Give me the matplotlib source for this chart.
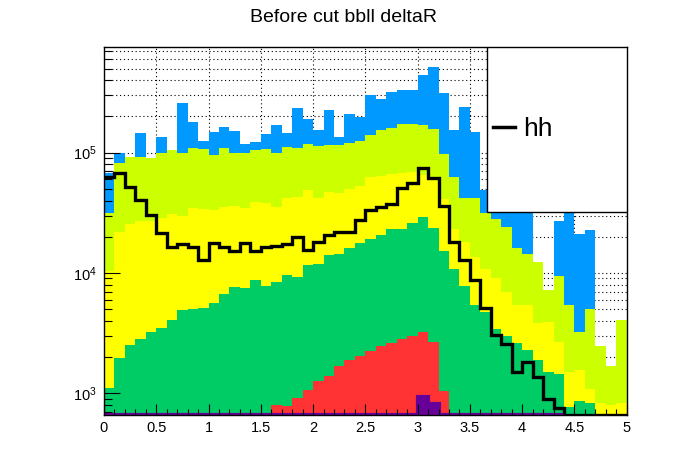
import numpy as np
import matplotlib
matplotlib.use('Agg')
import matplotlib.pyplot as plt
from matplotlib.ticker import MultipleLocator, FormatStrFormatter, LogLocator, NullFormatter
from matplotlib.patches import Rectangle

plt.rcParams['font.family'] = ['Liberation Sans', 'DejaVu Sans']
plt.rcParams['mathtext.default'] = 'regular'

# bin edges of deltaR histograms (50 bins of 0.1)
edges = np.linspace(0, 5, 51)

# stack levels (cumulative, top layer first)
blue_top = [68200, 100000, 91600, 145000, 89700, 134000, 105000, 258000, 180000, 125000,
            148000, 162000, 152000, 118000, 122000, 142000, 169000, 146000, 234000, 191000,
            153000, 225000, 135000, 210000, 198000, 302000, 280000, 322000, 332000, 332000,
            443000, 519000, 316000, 153000, 242000, 150000, 49000, 45000, 42000, 40000,
            36000, 12300, 7200, 27200, 40000, 21100, 22800, 2480, 1690, 4100]
lime_top = [31700, 82600, 91600, 92700, 89700, 100000, 105000, 98800, 109000, 107000,
            96400, 109000, 100000, 100000, 105000, 107000, 98800, 111000, 110000, 117000,
            114000, 116000, 116000, 120000, 125000, 139000, 155000, 160000, 173000, 173000,
            170000, 156000, 97500, 63200, 41800, 41800, 31300, 27900, 24300, 16000,
            14500, 12300, 7200, 9400, 5400, 3260, 5000, 2480, 1690, 4100]
yellow_top = [10300, 21900, 25500, 27000, 27000, 28500, 31000, 30000, 34500, 34000,
              33400, 35200, 36000, 34500, 38700, 38500, 35600, 42000, 43200, 49000,
              41800, 47500, 46500, 49900, 53200, 62400, 64400, 66500, 68200, 69500,
              65300, 61200, 41000, 23000, 18200, 13500, 10700, 9100, 6900, 5400,
              5400, 3860, 3940, 2650, 1490, 1560, 1080, 826, 800, 826]
green_top = [1100, 1980, 2520, 2830, 3210, 3470, 4070, 4930, 4990, 5090,
             5600, 6700, 7600, 7510, 8710, 7810, 8430, 9640, 9210, 11700,
             11900, 14100, 14300, 16000, 17900, 19100, 20700, 23000, 23200, 25900,
             29000, 23500, 15100, 10700, 7800, 5420, 4770, 3410, 3000, 2600,
             2290, 1890, 1510, 1450, 766, 863, 826, 450, 450, 450]
red_top = [450, 450, 450, 450, 450, 450, 450, 450, 450, 450,
           450, 450, 450, 450, 450, 682, 800, 790, 921, 1066,
           1267, 1403, 1700, 1893, 2056, 2250, 2480, 2610, 2830, 3000,
           3220, 2660, 1040, 450, 450, 450, 450, 450, 450, 450,
           450, 450, 450, 450, 450, 450, 450, 450, 450, 450]
purple_top = [300] * 30 + [938, 815] + [300] * 12 + [0] * 6

# signal hh (not stacked)
hh = [62400, 68200, 52200, 40500, 30400, 21400, 16600, 17300, 16300, 12800,
      17700, 16300, 15300, 17700, 15300, 16300, 16900, 17300, 20100, 15500,
      18000, 20700, 22100, 22100, 27600, 33200, 35700, 37500, 50600, 56400,
      75200, 61300, 36300, 18200, 12800, 8750, 5090, 3050, 2570, 1500,
      1830, 1370, 900, 760, 300, 300, 300, 300, 300, 300]

ymin, ymax = 660, 7.56e5

fig = plt.figure(figsize=(6.96, 4.72), dpi=100)
ax = fig.add_axes([0.1494, 0.1208, 0.751, 0.7796])
ax.set_yscale('log')
ax.set_xlim(0, 5)
ax.set_ylim(ymin, ymax)

layers = [(blue_top, '#0099ff'), (lime_top, '#ccff00'), (yellow_top, '#ffff00'),
          (green_top, '#00cc66'), (red_top, '#ff3333')]
for vals, col in layers:
    ax.stairs(vals, edges, baseline=1, fill=True, color=col, lw=0, zorder=1)

# purple layer: clamp at the axis minimum like ROOT does
pv = np.array(purple_top, dtype=float)
nz = np.nonzero(pv)[0]
pv_c = np.clip(pv[nz[0]:nz[-1] + 1], ymin, None)
ax.stairs(pv_c, edges[nz[0]:nz[-1] + 2], baseline=1, fill=True, color='#660099', lw=0, zorder=1.2)
ax.stairs(pv_c, edges[nz[0]:nz[-1] + 2], baseline=None, color='#660099', lw=3, zorder=1.3)

hh_c = np.clip(np.array(hh, dtype=float), ymin, None)
ax.stairs(hh_c, edges, baseline=None, color='black', lw=2.4, zorder=3, label='hh')

# ticks
ax.xaxis.set_major_locator(MultipleLocator(0.5))
ax.xaxis.set_minor_locator(MultipleLocator(0.1))
ax.xaxis.set_major_formatter(FormatStrFormatter('%g'))
ax.yaxis.set_major_locator(LogLocator(base=10))
ax.yaxis.set_minor_locator(LogLocator(base=10, subs=np.arange(2, 10)))
ax.yaxis.set_minor_formatter(NullFormatter())
ax.tick_params(axis='both', which='both', direction='in', width=0.8, labelsize=10.5,
               right=False, top=False)
ax.tick_params(axis='x', which='major', length=8, pad=4)
ax.tick_params(axis='x', which='minor', length=4)
ax.tick_params(axis='y', which='major', length=11.5, pad=5)
ax.tick_params(axis='y', which='minor', length=5.8)

# dotted grid behind the histograms
for x in ax.get_xticks():
    if 0 < x < 5:
        ax.axvline(x, color='black', lw=0.8, ls=(0, (1, 2.5)), zorder=0.2)
for y in list(ax.yaxis.get_majorticklocs()) + list(ax.yaxis.get_minorticklocs()):
    if ymin < y < ymax:
        ax.axhline(y, color='black', lw=0.8, ls=(0, (1, 2.5)), zorder=0.2)

for sp in ax.spines.values():
    sp.set_linewidth(1)
    sp.set_zorder(4)

# legend box
ax.add_patch(Rectangle((0.733, 0.5516), 0.267, 0.4484, transform=ax.transAxes,
                       facecolor='white', edgecolor='black', lw=1, zorder=5))
leg = ax.legend(loc='center left', bbox_to_anchor=(0.744, 0.777), frameon=False,
                fontsize=19, handlelength=0.85, handletextpad=0.3, borderpad=0,
                borderaxespad=0)
leg.set_zorder(6)
for line in leg.get_lines():
    line.set_linewidth(2.5)

fig.text(0.494, 0.954, 'Before cut bbll deltaR', ha='center', va='baseline', fontsize=14)

fig.savefig('out.png', dpi=100)
